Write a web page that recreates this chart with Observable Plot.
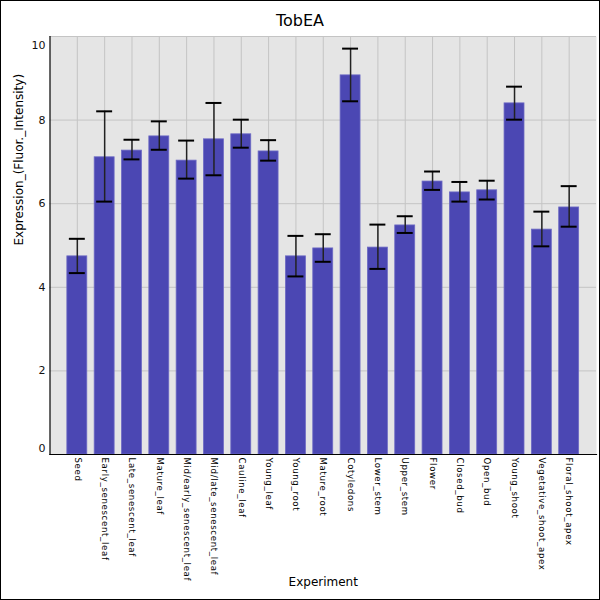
<!DOCTYPE html>
<html>
<head>
<meta charset="utf-8">
<script src="https://cdn.jsdelivr.net/npm/d3@7"></script>
<script src="https://cdn.jsdelivr.net/npm/@observablehq/plot@0.6"></script>
<style>
  html, body { margin: 0; padding: 0; background: #fff; }
  #chart { width: 600px; height: 600px; box-sizing: border-box; border: 1px solid #000; background: #fff; overflow: hidden; font-family: "DejaVu Sans", sans-serif; }
  #title { height: 28px; padding-top: 6px; line-height: 28px; font-size: 16px; text-align: center; color: #000; }
  #chart svg g[aria-label="x-axis tick label"] { letter-spacing: 0.65px; }
</style>
</head>
<body>
<div id="chart"><div id="title">TobEA</div></div>
<script>
const categories = ["Seed", "Early_senescent_leaf", "Late_senescent_leaf", "Mature_leaf", "Mid/early_senescent_leaf", "Mid/late_senescent_leaf", "Cauline_leaf", "Young_leaf", "Young_root", "Mature_root", "Cotyledons", "Lower_stem", "Upper_stem", "Flower", "Closed_bud", "Open_bud", "Young_shoot", "Vegetative_shoot_apex", "Floral_shoot_apex"];
const values = [4.74, 7.11, 7.27, 7.61, 7.03, 7.54, 7.66, 7.25, 4.74, 4.93, 9.07, 4.95, 5.48, 6.53, 6.27, 6.32, 8.40, 5.38, 5.91];
const lows   = [4.34, 6.05, 7.06, 7.29, 6.60, 6.68, 7.34, 7.03, 4.26, 4.61, 8.45, 4.44, 5.30, 6.33, 6.05, 6.10, 8.01, 4.98, 5.45];
const highs  = [5.16, 8.21, 7.53, 7.97, 7.51, 8.41, 8.01, 7.52, 5.23, 5.27, 9.71, 5.50, 5.70, 6.77, 6.52, 6.55, 8.80, 5.81, 6.42];
const yTicks = [0, 2, 4, 6, 8, 10];
const xLabel = "Experiment";
const yLabel = "Expression_(Fluor._Intensity)";

const data = categories.map((c, i) => ({name: c, value: values[i], lo: lows[i], hi: highs[i]}));

const plot = Plot.plot({
  width: 598,
  height: 564,
  marginLeft: 48.5,
  marginRight: 3,
  marginTop: 1,
  marginBottom: 145,
  style: {fontFamily: "DejaVu Sans, sans-serif", background: "transparent", overflow: "visible"},
  x: {domain: categories, paddingInner: 0.27, paddingOuter: 0.635, round: false, axis: null},
  y: {domain: [0, 10], axis: null},
  marks: [
    Plot.frame({fill: "#e5e5e5", stroke: null}),
    Plot.gridX(categories, {stroke: "#c4c4c4", strokeOpacity: 1, strokeWidth: 1}),
    Plot.gridY(yTicks, {stroke: "#c4c4c4", strokeOpacity: 1, strokeWidth: 1}),
    Plot.barY(data, {x: "name", y: "value", fill: "#4b47b3", stroke: "#6d6ac4", strokeWidth: 0.8}),
    Plot.ruleX(data, {x: "name", y1: "lo", y2: "hi", stroke: "#222", strokeWidth: 1.5}),
    Plot.tickY(data, {x: "name", y: "hi", stroke: "#000", strokeWidth: 2, inset: 2}),
    Plot.tickY(data, {x: "name", y: "lo", stroke: "#000", strokeWidth: 2, inset: 2}),
    Plot.frame({anchor: "left", stroke: "#000", strokeWidth: 1.2}),
    Plot.frame({anchor: "bottom", stroke: "#000", strokeWidth: 1.2}),
    Plot.axisY([2, 4, 6, 8], {tickSize: 0, tickPadding: 4.5, fontSize: 11, fill: "#111", label: null}),
    Plot.axisY([10], {tickSize: 0, tickPadding: 4.5, fontSize: 11, fill: "#111", label: null, dy: 9}),
    Plot.axisY([0], {tickSize: 0, tickPadding: 4.5, fontSize: 11, fill: "#111", label: null, dy: -6}),
    Plot.axisX({tickSize: 0, tickPadding: 3, tickRotate: 90, textAnchor: "start", lineAnchor: "middle", fontSize: 8.6, fill: "#000", label: null}),
    Plot.text([yLabel], {frameAnchor: "left", dx: -30.5, rotate: -90, fontSize: 12, fill: "#000"}),
    Plot.text([xLabel], {frameAnchor: "bottom", dy: 131, fontSize: 12, fill: "#000"})
  ]
});
document.getElementById("chart").appendChild(plot);
</script>
</body>
</html>
